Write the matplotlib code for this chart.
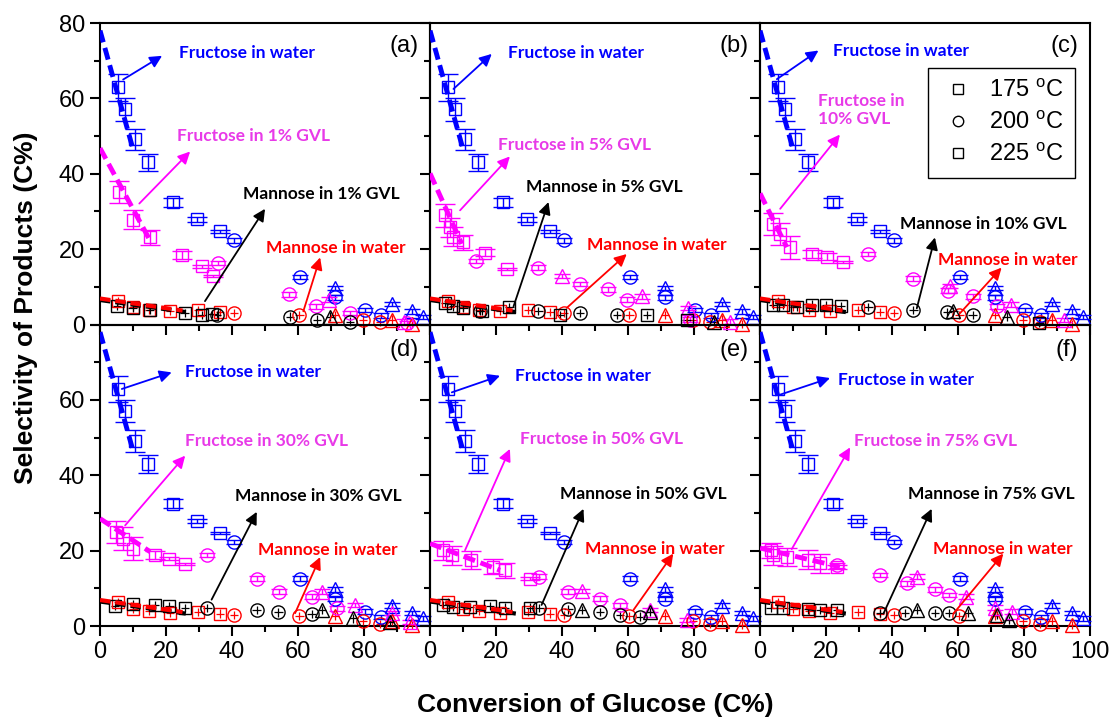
import matplotlib
matplotlib.use('Agg')
import matplotlib.pyplot as plt
from matplotlib.lines import Line2D
from matplotlib.ticker import MultipleLocator

plt.rcParams['font.family'] = ['Liberation Sans', 'DejaVu Sans']
plt.rcParams['mathtext.default'] = 'regular'

# ---- data ----
gvl = ['1%', '5%', '10%', '30%', '50%', '75%']
tags = ['(a)', '(b)', '(c)', '(d)', '(e)', '(f)']

# fructose in water (same in every panel)
fw175_x = [5.5, 7.6, 10.6, 14.6, 22.2, 29.5, 36.4]
fw175_y = [62.9, 57.1, 49.1, 43.0, 32.5, 27.9, 24.7]
fw175_e = [3.5, 3.0, 2.8, 2.3, 1.2, 0.6, 0.3]
fw200_x = [40.6, 60.6, 71.2, 80.3, 85.0]
fw200_y = [22.3, 12.6, 7.2, 3.8, 2.4]
fw225_x = [71.2, 88.5, 94.5, 98.0]
fw225_y = [9.7, 5.4, 3.5, 2.0]

# mannose in water (same in every panel)
mw175_x = [5.5, 10.1, 14.9, 21.2, 29.8, 36.4]
mw175_y = [6.3, 4.6, 3.9, 3.5, 3.8, 3.3]
mw200_x = [40.6, 60.4, 79.7, 84.8]
mw200_y = [3.0, 2.6, 1.3, 0.6]
mw225_x = [71.2, 88.4, 94.5]
mw225_y = [2.6, 1.3, 0.2]

# fructose in GVL, one list per panel
fg175_x = [[5.6, 9.9, 15.2, 24.9, 31.0, 34.1],
           [4.5, 6.1, 7.1, 9.9, 16.7, 23.4],
           [4.0, 5.9, 9.1, 15.7, 20.2, 25.1],
           [4.8, 6.9, 9.9, 16.7, 21.0, 25.8],
           [4.0, 6.6, 12.3, 19.0, 22.7, 30.3],
           [3.2, 4.0, 8.3, 14.6, 18.2, 23.4]]
fg175_y = [[35.2, 27.8, 23.1, 18.4, 15.4, 12.9],
           [29.0, 25.8, 23.3, 21.8, 19.1, 14.7],
           [26.7, 24.0, 20.5, 18.7, 18.0, 16.5],
           [25.0, 23.2, 20.5, 18.8, 17.9, 16.4],
           [20.1, 18.8, 17.5, 15.7, 14.8, 12.6],
           [20.1, 18.8, 18.3, 17.6, 16.6, 15.7]]
fg175_e = [[3.0, 2.5, 2.0, 1.0, 0.3, 0.3],
           [3.0, 2.5, 2.5, 2.0, 1.0, 0.3],
           [3.0, 3.0, 3.0, 1.0, 1.0, 0.3],
           [3.0, 3.0, 3.0, 1.0, 0.5, 0.3],
           [2.5, 2.5, 2.5, 2.0, 2.0, 0.5],
           [2.0, 2.5, 2.5, 2.5, 2.5, 0.5]]
fg200_x = [[35.6, 57.3, 65.5, 75.8, 92.9],
           [13.9, 32.8, 45.5, 54.0, 59.6, 78.8],
           [32.8, 46.5, 57.1, 64.4, 71.7],
           [32.5, 47.5, 54.3, 64.1, 71.7],
           [33.1, 41.9, 51.5, 57.6],
           [23.4, 36.4, 44.4, 53.0, 57.4]]
fg200_y = [[16.3, 8.0, 4.8, 3.0, 0.4],
           [16.9, 15.1, 10.8, 9.3, 6.6, 1.3],
           [18.7, 12.2, 9.0, 7.5, 4.8],
           [18.8, 12.6, 9.1, 7.8, 4.7],
           [13.1, 9.1, 7.3, 5.5],
           [16.1, 13.5, 11.3, 9.7, 8.2]]
fg225_x = [[69.5, 92.0],
           [39.9, 64.1, 78.3, 90.9],
           [57.6, 76.0, 92.0],
           [67.2, 77.3, 88.4, 93.9],
           [46.0, 66.7, 77.8],
           [47.5, 62.4, 71.2, 76.3]]
fg225_y = [[6.6, 0.8],
           [12.9, 7.5, 4.4, 0.8],
           [10.2, 5.3, 1.2],
           [9.1, 5.6, 3.4, 1.1],
           [9.3, 4.2, 1.6],
           [13.1, 7.8, 4.9, 3.8]]

# mannose in GVL, one list per panel
mg175_x = [[5.1, 9.9, 15.2, 25.6, 30.8, 34.0],
           [4.5, 7.1, 10.1, 15.7, 24.0, 39.4, 65.7, 77.8],
           [4.0, 7.1, 11.1, 15.7, 20.0, 24.4, 84.6],
           [4.5, 10.1, 16.7, 21.0, 25.8],
           [4.0, 7.1, 12.1, 18.2, 22.7, 30.3],
           [3.2, 7.1, 14.6, 18.2, 23.4]]
mg175_y = [[5.0, 4.3, 3.8, 3.0, 2.6, 2.8],
           [5.7, 4.8, 4.4, 3.7, 4.6, 2.6, 2.6, 1.3],
           [5.3, 5.1, 4.6, 5.3, 5.1, 4.8, 0.4],
           [5.3, 5.8, 5.6, 5.3, 4.7],
           [5.6, 5.1, 5.1, 5.3, 4.9, 4.9],
           [4.9, 4.7, 4.4, 4.2, 4.2]]
mg200_x = [[35.4, 57.6, 65.7, 75.8],
           [15.2, 32.8, 45.5, 56.6],
           [32.8, 46.5, 56.8, 64.4],
           [32.5, 47.5, 54.0, 64.1],
           [33.1, 41.9, 51.5, 57.6, 63.6],
           [36.4, 43.9, 53.0, 57.4]]
mg200_y = [[2.6, 2.1, 1.3, 0.8],
           [3.5, 3.5, 3.0, 2.6],
           [4.6, 3.9, 3.3, 2.6],
           [4.7, 4.2, 3.6, 3.2],
           [4.7, 4.4, 3.8, 2.9, 2.5],
           [3.5, 3.5, 3.4, 3.4]]
mg225_x = [[69.7], [86.0], [58.6, 74.7], [67.2, 76.8, 87.9],
           [46.0, 66.7], [47.5, 63.1, 71.7, 75.3]]
mg225_y = [[2.1], [0.6], [3.5, 2.1], [4.2, 2.0, 1.1],
           [4.2, 3.8], [4.2, 3.5, 2.9, 1.6]]

# dashed fit lines
blue_fit_x = [0, 10]
blue_fit_y = [78, 46.5]
mag_fit_x = [[0, 14.9], [0, 9.6], [0, 8.1], [0, 15.2], [0, 21.2], [0, 24.2]]
mag_fit_y = [[46.8, 22.7], [40.1, 21.4], [34.8, 20.5], [28.5, 19.7], [21.9, 14.8], [20.7, 15.7]]
red_fit_x = [0, 25]
red_fit_y = [6.9, 3.7]
blk_fit_x = [0, 26]
blk_fit_y = [6.5, 3.3]

# annotation layout (text pos, arrow tail, arrow head) per panel
blue_txt = [(24, 72.1), (23.7, 72), (22.2, 72.6), (25.8, 67.3), (25.8, 66.4), (23.7, 65.3)]
blue_arr = [((7, 65), (18.8, 71.3)), ((7.1, 62.5), (18.7, 71.8)), ((5.1, 65.1), (17.7, 72.7)),
            ((6.6, 62.9), (21.7, 67.3)), ((6.6, 62), (21.2, 66.4)), ((6.1, 61.4), (21.2, 65.8))]
mag_txt = [(23.2, 50), (20.5, 47.7), (17.7, 56.9), (25.8, 49), (27.3, 49.6), (28.5, 49)]
mag_arr = [((11.9, 32.1), (27.3, 45.9)), ((9.1, 30.3), (24.2, 44.6)), ((6.1, 30.7), (24.2, 50.4)),
           ((7.6, 26.7), (25.8, 45.2)), ((10.6, 20.1), (24.2, 47)), ((9.6, 20.4), (27.3, 47.4))]
blk_txt = [(43.4, 34.6), (29.1, 36.6), (42.4, 26.7), (40.9, 34.4), (39.4, 34.9), (44.9, 34.9)]
blk_arr = [((31.8, 6.2), (50, 30.7)), ((25.3, 4.8), (35.9, 32.5)), ((47.5, 4.3), (53, 23.1)),
           ((33.8, 7), (47.5, 30.3)), ((33.8, 5.6), (46.5, 31.1)), ((37.4, 3.3), (52, 31.1))]
red_txt = [(50.3, 20.2), (47.5, 21.1), (54, 17.1), (48, 20.1), (47, 20.5), (52.3, 20.5)]
red_arr = [((61.6, 3.5), (66.7, 17.8)), ((41.4, 4.4), (59.6, 18.7)), ((60.6, 3), (73.2, 15.1)),
           ((59.1, 3.4), (66.7, 18.3)), ((61.6, 4.2), (73.7, 19.2)), ((58.6, 3.3), (73.7, 19.2))]

BLUE = '#0000ff'
MAG = '#ff00ff'
MAGT = '#e83ae8'
RED = '#ff0000'
BLK = '#000000'


def fructose(ax, x, y, e, mk, c, ms, cap):
    ax.errorbar(x, y, yerr=e, fmt=mk, ms=ms, mfc='none', mec=c, mew=1.0,
                ecolor=c, elinewidth=1.0, capsize=cap, capthick=1.0,
                clip_on=False, zorder=3)


def mannose(ax, x, y, mk, c, ms):
    ax.errorbar(x, y, xerr=1.3, yerr=1.1, fmt=mk, ms=ms, mfc='none', mec=c, mew=1.0,
                ecolor=c, elinewidth=0.9, capsize=0, clip_on=False, zorder=3)


def arrow(ax, tail, head, c):
    ax.annotate('', xy=head, xytext=tail,
                arrowprops=dict(arrowstyle='-|>', color=c, lw=1.3, mutation_scale=18,
                                shrinkA=0, shrinkB=0), zorder=5)


fig = plt.figure(figsize=(11.14, 7.19), dpi=100)
axes = fig.subplots(2, 3).ravel()
fig.subplots_adjust(left=0.0898, right=0.9785, top=0.968, bottom=0.1293, wspace=0, hspace=0)

for i, ax in enumerate(axes):
    ax.set_facecolor('none')
    ax.set_xlim(0, 100)
    ax.set_ylim(0, 80)

    # water series (common)
    fructose(ax, fw175_x, fw175_y, fw175_e, 's', BLUE, 8.5, 7)
    fructose(ax, fw200_x, fw200_y, 0.6, 'o', BLUE, 9.5, 6)
    fructose(ax, fw225_x, fw225_y, 0.6, '^', BLUE, 10, 6)
    mannose(ax, mw175_x, mw175_y, 's', RED, 8.5)
    mannose(ax, mw200_x, mw200_y, 'o', RED, 9.5)
    mannose(ax, mw225_x, mw225_y, '^', RED, 10)

    # GVL series
    fructose(ax, fg175_x[i], fg175_y[i], fg175_e[i], 's', MAG, 8.5, 7)
    fructose(ax, fg200_x[i], fg200_y[i], 0.6, 'o', MAG, 9.5, 6)
    fructose(ax, fg225_x[i], fg225_y[i], 0.6, '^', MAG, 10, 6)
    mannose(ax, mg175_x[i], mg175_y[i], 's', BLK, 8.5)
    mannose(ax, mg200_x[i], mg200_y[i], 'o', BLK, 9.5)
    mannose(ax, mg225_x[i], mg225_y[i], '^', BLK, 10)

    # fits
    ax.plot(blue_fit_x, blue_fit_y, color=BLUE, lw=3.5, ls=(0, (2.5, 1.2)), zorder=4)
    ax.plot(mag_fit_x[i], mag_fit_y[i], color=MAG, lw=3.5, ls=(0, (2.5, 1.2)), zorder=4)
    ax.plot(blk_fit_x, blk_fit_y, color=BLK, lw=3, ls=(0, (2.5, 1.2)), zorder=4)
    ax.plot(red_fit_x, red_fit_y, color=RED, lw=3, ls=(0, (2.5, 1.2)), zorder=4)

    # annotations
    tfont = dict(fontsize=12.5, fontweight='bold', family=['Lato', 'DejaVu Sans'],
                 ha='left', va='center', zorder=6)
    ax.text(*blue_txt[i], 'Fructose in water', color=BLUE, **tfont)
    arrow(ax, *blue_arr[i], BLUE)
    mag_label = 'Fructose in\n%s GVL' % gvl[i] if i == 2 else 'Fructose in %s GVL' % gvl[i]
    ax.text(*mag_txt[i], mag_label, color=MAGT, linespacing=1.2, **tfont)
    arrow(ax, *mag_arr[i], MAG)
    ax.text(*blk_txt[i], 'Mannose in %s GVL' % gvl[i], color=BLK, **tfont)
    arrow(ax, *blk_arr[i], BLK)
    ax.text(*red_txt[i], 'Mannose in water', color=RED, **tfont)
    arrow(ax, *red_arr[i], RED)

    ax.text(0.965, 0.925 if i < 3 else 0.915, tags[i], transform=ax.transAxes,
            ha='right', va='center', fontsize=17)

    # axes styling
    for s in ax.spines.values():
        s.set_linewidth(1.5)
    ax.xaxis.set_minor_locator(MultipleLocator(10))
    ax.yaxis.set_minor_locator(MultipleLocator(10))
    ax.tick_params(which='major', direction='out', length=7, width=1.5, labelsize=17,
                   top=False, right=False, pad=4)
    ax.tick_params(which='minor', direction='out', length=4, width=1.5, top=False, right=False)

    xt = [0, 20, 40, 60, 80, 100]
    yt = [0, 20, 40, 60, 80]
    if i < 3:
        ax.set_xticks(xt, [''] * 6)
    elif i < 5:
        ax.set_xticks(xt, ['0', '20', '40', '60', '80', ''])
    else:
        ax.set_xticks(xt, [str(v) for v in xt])
    if i % 3 != 0:
        ax.set_yticks(yt, [''] * 5)
    elif i == 0:
        ax.set_yticks(yt, [str(v) for v in yt])
    else:
        ax.set_yticks(yt, ['0', '20', '40', '60', ''])

# legend in panel (c)
handles = [Line2D([], [], marker='s', ls='none', mfc='none', mec='k', ms=6.5, mew=1),
           Line2D([], [], marker='o', ls='none', mfc='none', mec='k', ms=7.5, mew=1),
           Line2D([], [], marker='s', ls='none', mfc='none', mec='k', ms=6.5, mew=1)]
labels = ['175 $^{o}$C', '200 $^{o}$C', '225 $^{o}$C']
leg = axes[2].legend(handles, labels, loc='upper right', bbox_to_anchor=(0.955, 0.85),
                     borderaxespad=0, fontsize=17, frameon=True, fancybox=False,
                     edgecolor='k', framealpha=1, handletextpad=0.5, borderpad=0.5,
                     labelspacing=0.42, handlelength=1.6)
leg.get_frame().set_linewidth(1.0)

fig.text(0.023, 0.572, 'Selectivity of Products (C%)', rotation=90, ha='center', va='center',
         fontsize=19, fontweight='bold')
fig.text(0.534, 0.02, 'Conversion of Glucose (C%)', ha='center', va='center',
         fontsize=19, fontweight='bold')

fig.savefig('out.png', dpi=100, facecolor='white')
